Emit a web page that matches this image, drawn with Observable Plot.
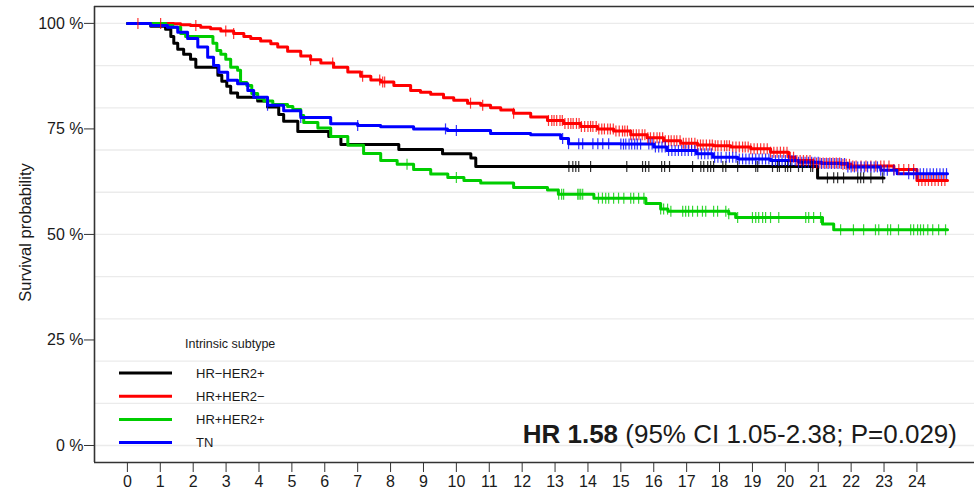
<!DOCTYPE html>
<html>
<head>
<meta charset="utf-8">
<script src="https://cdn.jsdelivr.net/npm/d3@7"></script>
<script src="https://cdn.jsdelivr.net/npm/@observablehq/plot@0.6"></script>
<style>
  body { margin: 0; background: #ffffff; }
  #wrap { position: relative; width: 974px; height: 498px; }
</style>
</head>
<body>
<div id="wrap"></div>
<script>
// ---------- data ----------
const groups = ["HR\u2212HER2+", "HR+HER2\u2212", "HR+HER2+", "TN"];
const groupColors = ["#000000", "#ff0000", "#00cd00", "#0000ff"];
const legendTitle = "Intrinsic subtype";
const yLabel = "Survival probability";
const hrBold = "HR 1.58";
const hrRest = " (95% CI 1.05-2.38; P=0.029)";

const xTicks = [0,1,2,3,4,5,6,7,8,9,10,11,12,13,14,15,16,17,18,19,20,21,22,23,24];
const yTicks = [0, 25, 50, 75, 100];
const yGrid = [0,10,20,30,40,50,60,70,80,90,100];

// HR-HER2+ (black)
const timeBlack = [0, 0.71, 1.16, 1.32, 1.41, 1.53, 1.71, 1.92, 2.08, 2.75, 2.87, 3.02, 3.14, 3.35, 3.96, 4.26, 4.6, 4.75, 5.18, 6.12, 6.49, 8.25, 9.58, 10.44, 10.59, 20.98, 23.0];
const survBlack = [100, 99.3, 98.6, 96.9, 95.3, 93.9, 92.7, 91.5, 89.6, 87.7, 86.3, 85.1, 83.5, 82.5, 81.6, 80.2, 78.4, 76.8, 74.4, 73.2, 71.3, 70.1, 69.1, 68.1, 66.1, 63.4, 63.4];
const censBlack = [13.42, 13.54, 13.63, 13.72, 14.08, 15.18, 15.66, 15.75, 15.85, 16.24, 16.33, 16.48, 17.18, 17.43, 17.52, 17.64, 17.73, 17.82, 18.1, 18.19, 18.55, 19.1, 19.16, 19.61, 19.76, 19.82, 20.0, 20.07, 20.16, 20.4, 20.52, 20.77, 20.83, 21.28, 21.47, 21.59, 21.77, 22.2, 22.29, 22.38, 22.6, 22.96];

// HR+HER2- (red)
const timeRed = [0, 1.42, 1.62, 1.92, 2.23, 2.53, 2.84, 3.23, 3.54, 3.75, 4.05, 4.36, 4.57, 4.87, 5.27, 5.57, 5.88, 6.27, 6.7, 7.09, 7.4, 7.7, 8.1, 8.61, 8.91, 9.22, 9.61, 9.92, 10.34, 10.74, 11.04, 11.35, 11.74, 12.26, 12.77, 13.26, 13.78, 14.29, 14.78, 15.3, 15.8, 16.3, 16.82, 17.33, 17.82, 18.34, 18.95, 19.55, 20.1, 20.3, 20.85, 21.7, 22.0, 23.3, 24.0, 24.93];
const survRed = [100, 99.9, 99.7, 99.5, 99.1, 98.7, 98.2, 97.6, 96.9, 96.4, 95.8, 95.2, 94.4, 93.4, 92.3, 91.4, 90.6, 89.6, 88.5, 87.5, 86.6, 86.1, 85.3, 84.1, 83.7, 83.2, 82.4, 81.8, 81.1, 80.6, 80.0, 79.5, 78.7, 77.8, 77.0, 76.3, 75.6, 75.0, 74.5, 73.6, 72.9, 72.2, 71.6, 71.2, 71.0, 70.7, 70.3, 69.5, 68.3, 67.5, 66.9, 66.6, 66.2, 65.4, 62.8, 62.8];
const censRed = [0.32, 1.01, 2.08, 2.99, 3.23, 5.57, 6.24, 7.15, 7.67, 7.76, 7.82, 10.43, 10.8, 11.74,
  12.8, 12.9, 12.97, 13.05, 13.15, 13.22, 13.3, 13.4, 13.48, 13.55, 13.65, 13.73, 13.8, 13.9, 14.0, 14.08, 14.15, 14.25, 14.33, 14.42, 14.5, 14.6, 14.68, 14.77, 14.85, 14.95,
  15.05, 15.12, 15.2, 15.3, 15.38, 15.47, 15.55, 15.65, 15.73, 15.82, 15.9, 16.0, 16.1, 16.18, 16.27, 16.35, 16.45, 16.53, 16.62, 16.7, 16.8, 16.9, 16.98,
  17.07, 17.15, 17.25, 17.33, 17.42, 17.5, 17.6, 17.7, 17.78, 17.87, 17.95, 18.05, 18.15, 18.22, 18.3, 18.4, 18.5, 18.6, 18.7, 18.78, 18.87, 18.95,
  19.05, 19.15, 19.25, 19.35, 19.45, 19.55, 19.65, 19.75, 19.85, 19.95, 20.05, 20.15, 20.25, 20.35, 20.45, 20.55, 20.65, 20.75, 20.85, 20.95,
  21.05, 21.15, 21.25, 21.35, 21.45, 21.55, 21.65, 21.75, 21.85, 21.95, 22.05, 22.15, 22.3, 22.45, 22.6, 22.75, 22.9, 23.0, 23.15, 23.3, 23.45, 23.6, 23.75, 23.9,
  24.05, 24.15, 24.25, 24.35, 24.45, 24.55, 24.65, 24.75, 24.85];

// HR+HER2+ (green)
const timeGreen = [0, 1.17, 1.38, 1.62, 1.77, 2.6, 2.72, 2.84, 2.99, 3.14, 3.35, 3.44, 3.63, 3.78, 3.96, 4.15, 4.42, 4.87, 5.03, 5.27, 5.36, 5.79, 6.18, 6.7, 7.18, 7.7, 8.2, 8.7, 9.22, 9.74, 10.23, 10.74, 11.74, 12.77, 13.1, 14.18, 15.76, 16.21, 16.43, 18.28, 18.49, 21.13, 21.47, 24.93];
const survGreen = [100, 99.5, 99.1, 97.6, 96.9, 95.3, 93.6, 92.7, 91.5, 89.6, 88.9, 86.0, 85.3, 83.4, 82.2, 81.6, 80.8, 80.3, 79.6, 78.2, 76.5, 75.2, 73.2, 71.1, 69.2, 67.5, 66.6, 65.4, 64.3, 63.5, 62.8, 62.2, 61.1, 60.5, 59.5, 58.6, 57.3, 56.0, 55.5, 54.9, 54.0, 52.5, 51.1, 51.1];
const censGreen = [8.5, 10.0, 13.11, 13.2, 13.26, 13.69, 13.73, 13.78, 13.84, 14.32, 14.44, 14.54, 14.63, 14.78, 14.93, 15.09, 15.3, 15.39, 15.54, 15.7, 16.21, 16.3, 16.42, 16.52, 16.88, 16.97, 17.06, 17.18, 17.33, 17.48, 17.58, 17.82, 17.94, 18.19, 18.28, 18.55, 19.0, 19.1, 19.19, 19.31, 19.4, 19.55, 19.8, 20.62, 20.71, 20.86, 21.07, 21.68, 22.07, 22.38, 22.74, 22.84, 23.11, 23.2, 23.44, 23.81, 23.9, 24.02, 24.11, 24.2, 24.33, 24.48, 24.66, 24.87];

// TN (blue)
const timeBlue = [0, 0.71, 1.22, 1.53, 1.83, 2.14, 2.44, 2.62, 2.78, 3.05, 3.35, 3.66, 3.84, 4.26, 4.75, 5.27, 6.18, 7.0, 7.7, 8.7, 9.73, 11.04, 12.26, 13.17, 13.41, 15.0, 16.0, 16.4, 17.3, 17.8, 18.55, 19.55, 20.4, 21.1, 21.9, 22.9, 23.4, 24.93];
const survBlue = [100, 99.5, 99.1, 97.9, 96.4, 94.4, 92.0, 90.0, 88.4, 86.5, 85.7, 84.1, 82.5, 80.6, 79.3, 77.7, 76.2, 75.8, 75.5, 75.0, 74.6, 73.9, 73.6, 72.7, 71.5, 71.4, 70.7, 69.9, 69.1, 68.3, 67.9, 67.5, 67.1, 66.8, 66.0, 65.2, 64.4, 64.4];
const censBlue = [4.26, 5.27, 7.0, 9.67, 10.0, 13.23, 13.41, 13.72, 13.84, 14.15, 14.3, 14.45, 14.63, 15.0, 15.08, 15.15, 15.25, 15.33, 15.42, 15.5, 15.6, 15.85, 15.95,
  16.05, 16.15, 16.25, 16.35, 16.45, 16.55, 16.65, 16.75, 16.85, 16.95, 17.05, 17.15, 17.25, 17.35, 17.45, 17.55, 17.65, 17.75, 17.85, 17.95,
  18.05, 18.2, 18.3, 18.4, 18.5, 18.6, 18.7, 18.8, 18.9, 19.0, 19.1, 19.2, 19.3, 19.4, 19.5, 19.6, 19.7, 19.8, 19.9, 20.0, 20.1, 20.2, 20.3, 20.4, 20.5, 20.6, 20.7, 20.8, 20.9,
  21.0, 21.1, 21.2, 21.3, 21.4, 21.5, 21.6, 21.7, 21.8, 21.9, 22.0, 22.1, 22.2, 22.3, 22.4, 22.5, 22.6, 22.7, 22.8, 22.9, 23.0, 23.1, 23.3,
  23.75, 23.9, 24.0, 24.1, 24.2, 24.3, 24.4, 24.5, 24.6, 24.7, 24.8, 24.9];

// ---------- build tables ----------
const series = [
  {name: groups[0], time: timeBlack, surv: survBlack, cens: censBlack},
  {name: groups[1], time: timeRed, surv: survRed, cens: censRed},
  {name: groups[2], time: timeGreen, surv: survGreen, cens: censGreen},
  {name: groups[3], time: timeBlue, surv: survBlue, cens: censBlue}
];
function survAt(time, surv, t) {
  let s = surv[0];
  for (let i = 0; i < time.length; i++) { if (time[i] <= t) s = surv[i]; else break; }
  return s;
}
const curveRows = [];
const censorRows = [];
for (const s of series) {
  s.time.forEach((t, i) => curveRows.push({group: s.name, t, p: s.surv[i]}));
  s.cens.forEach(t => censorRows.push({group: s.name, t, p: survAt(s.time, s.surv, t)}));
}

const FONT = '"Liberation Sans", Arial, Helvetica, sans-serif';
const xDomain = [-1, 25.75];
const yDomain = [-4.03, 104.0];
const vbar = {
  draw(ctx, size) {
    const r = Math.sqrt(size / Math.PI);
    ctx.moveTo(0, -r); ctx.lineTo(0, r);
  }
};

const chart = Plot.plot({
  width: 974,
  height: 498,
  marginLeft: 94,
  marginRight: 0,
  marginTop: 6,
  marginBottom: 36,
  style: {fontFamily: FONT, fontSize: "16px", background: "#ffffff", color: "#1a1a1a"},
  x: {domain: xDomain},
  y: {domain: yDomain},
  color: {domain: groups, range: groupColors},
  marks: [
    Plot.ruleY(yGrid, {stroke: "#ebebeb", strokeWidth: 1.3}),
    Plot.axisY({ticks: yTicks, tickFormat: d => d + " %", tickSize: 10, tickPadding: 1, label: null, stroke: "#333333", fill: "#1a1a1a"}),
    Plot.axisX({ticks: xTicks, tickSize: 10, tickPadding: 3, label: null, stroke: "#333333", fill: "#1a1a1a"}),
    Plot.ruleX([xDomain[0]], {stroke: "#333333", strokeWidth: 1.6}),
    Plot.ruleY([yDomain[0]], {stroke: "#333333", strokeWidth: 1.6}),
    Plot.ruleY([yDomain[1]], {stroke: "#333333", strokeWidth: 1.6}),
    Plot.line(curveRows, {x: "t", y: "p", z: "group", stroke: "group", curve: "step-after", strokeWidth: 3}),
    Plot.dot(censorRows, {x: "t", y: "p", stroke: "group", symbol: vbar, r: 5.5, strokeWidth: 1.2, strokeOpacity: 0.8}),
    Plot.text([yLabel], {frameAnchor: "left", dx: -69, dy: -2, rotate: -90, textAnchor: "middle", fontSize: 16.5, fill: "#1a1a1a"})
  ]
});

document.getElementById("wrap").appendChild(chart);

// ---------- legend & annotation ----------
const svg = d3.select(chart);
const g = svg.append("g").attr("font-family", FONT).attr("fill", "#1a1a1a").attr("text-anchor", "start");
g.append("text").attr("x", 185).attr("y", 348).attr("font-size", 12.5).text(legendTitle);
groups.forEach((name, i) => {
  const y = 373 + i * 23.2;
  g.append("line").attr("x1", 119).attr("x2", 172).attr("y1", y).attr("y2", y)
    .attr("stroke", groupColors[i]).attr("stroke-width", 3);
  g.append("text").attr("x", 196).attr("y", y).attr("dy", "0.35em").attr("font-size", 13).text(name);
});
const hr = g.append("text").attr("x", 957).attr("y", 443).attr("text-anchor", "end")
  .attr("font-size", 26).style("white-space", "pre");
hr.append("tspan").attr("font-weight", "bold").text(hrBold);
hr.append("tspan").text(hrRest);
</script>
</body>
</html>
